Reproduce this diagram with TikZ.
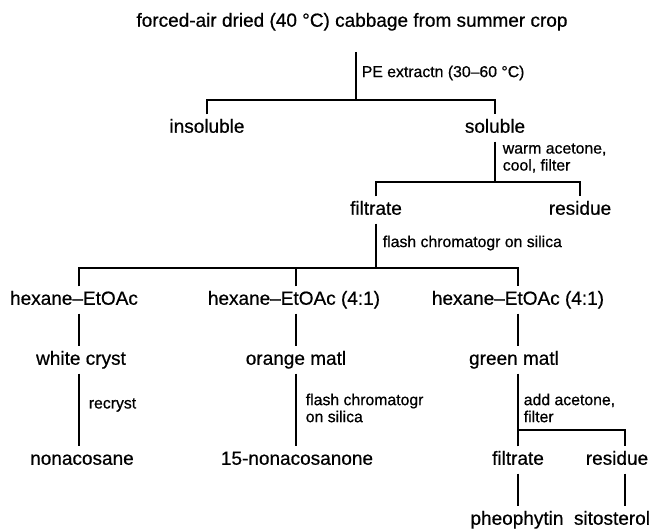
\documentclass[tikz,border=0pt]{standalone}
\usepackage{fontspec}
\setmainfont{Liberation Sans}[FakeBold=0.6]
\begin{document}
\begin{tikzpicture}[x=1pt,y=-1pt,line width=1.6pt,
  lbl/.style={font=\fontsize{19}{21}\selectfont,text height=13.5pt,text depth=4pt,inner xsep=0pt,inner ysep=4pt},
  note/.style={font=\fontsize{15.8}{17}\selectfont,anchor=west,inner sep=0pt,align=left}]
\useasboundingbox[fill=white] (0,0) rectangle (650,529);
% level 0
\node[lbl] (top) at (352,22) {forced-air dried (40 °C) cabbage from summer crop};
\coordinate (s0) at (356,52);
\coordinate (j0) at (356,100);
\node[lbl] (ins) at (207,128) {insoluble};
\node[lbl] (sol) at (495,128) {soluble};
\draw (s0) -- (j0);
\draw (ins.north) -- (ins.north |- j0) -- (sol.north |- j0) -- (sol.north);
\node[note] (n0) at (361,73) {PE extractn (30–60 °C)};
% level 1
\coordinate (j1) at (495,182);
\node[lbl] (filt) at (376,210) {filtrate};
\node[lbl] (res) at (580,210) {residue};
\draw (sol.south) -- (j1);
\draw (filt.north) -- (filt.north |- j1) -- (res.north |- j1) -- (res.north);
\node[note] (n1) at (502,158) {warm acetone,\\cool, filter};
% level 2
\coordinate (j2) at (376,268);
\coordinate (x1) at (79,0);
\coordinate (x2) at (296,0);
\coordinate (x3) at (518,0);
\node[lbl] (h1) at (74,300) {hexane–EtOAc};
\node[lbl] (h2) at (294,300) {hexane–EtOAc (4:1)};
\node[lbl] (h3) at (518,300) {hexane–EtOAc (4:1)};
\draw (filt.south) -- (j2);
\draw (h1.north -| x1) -- (x1 |- j2) -- (x3 |- j2) -- (h3.north -| x3);
\draw (h2.north -| x2) -- (x2 |- j2);
\node[note] (n2) at (382,243) {flash chromatogr on silica};
% level 3
\node[lbl] (wc) at (81,360) {white cryst};
\node[lbl] (om) at (296,360) {orange matl};
\node[lbl] (gm) at (514,360) {green matl};
\draw (h1.south -| x1) -- (wc.north -| x1);
\draw (h2.south -| x2) -- (om.north -| x2);
\draw (h3.south -| x3) -- (gm.north -| x3);
% level 4
\node[lbl] (non) at (82,460) {nonacosane};
\node[lbl] (none) at (297,460) {15-nonacosanone};
\draw (wc.south -| x1) -- (non.north -| x1);
\draw (om.south -| x2) -- (none.north -| x2);
\node[note] (n3) at (88,405) {recryst};
\node[note] (n4) at (305,408) {flash chromatogr\\on silica};
\coordinate (j3) at (518,430);
\coordinate (xr) at (625,430);
\node[lbl] (filt2) at (518,460) {filtrate};
\node[lbl] (res2) at (617,460) {residue};
\draw (gm.south -| j3) -- (j3);
\draw (filt2.north) -- (filt2.north |- j3) -- (xr) -- (xr |- res2.north);
\node[note] (n5) at (523,408) {add acetone,\\filter};
% level 5
\node[lbl] (pheo) at (517,520) {pheophytin};
\node[lbl] (sito) at (612,520) {sitosterol};
\draw (filt2.south) -- (filt2.south |- pheo.north);
\draw (xr |- res2.south) -- (xr |- sito.north);
\end{tikzpicture}
\end{document}
